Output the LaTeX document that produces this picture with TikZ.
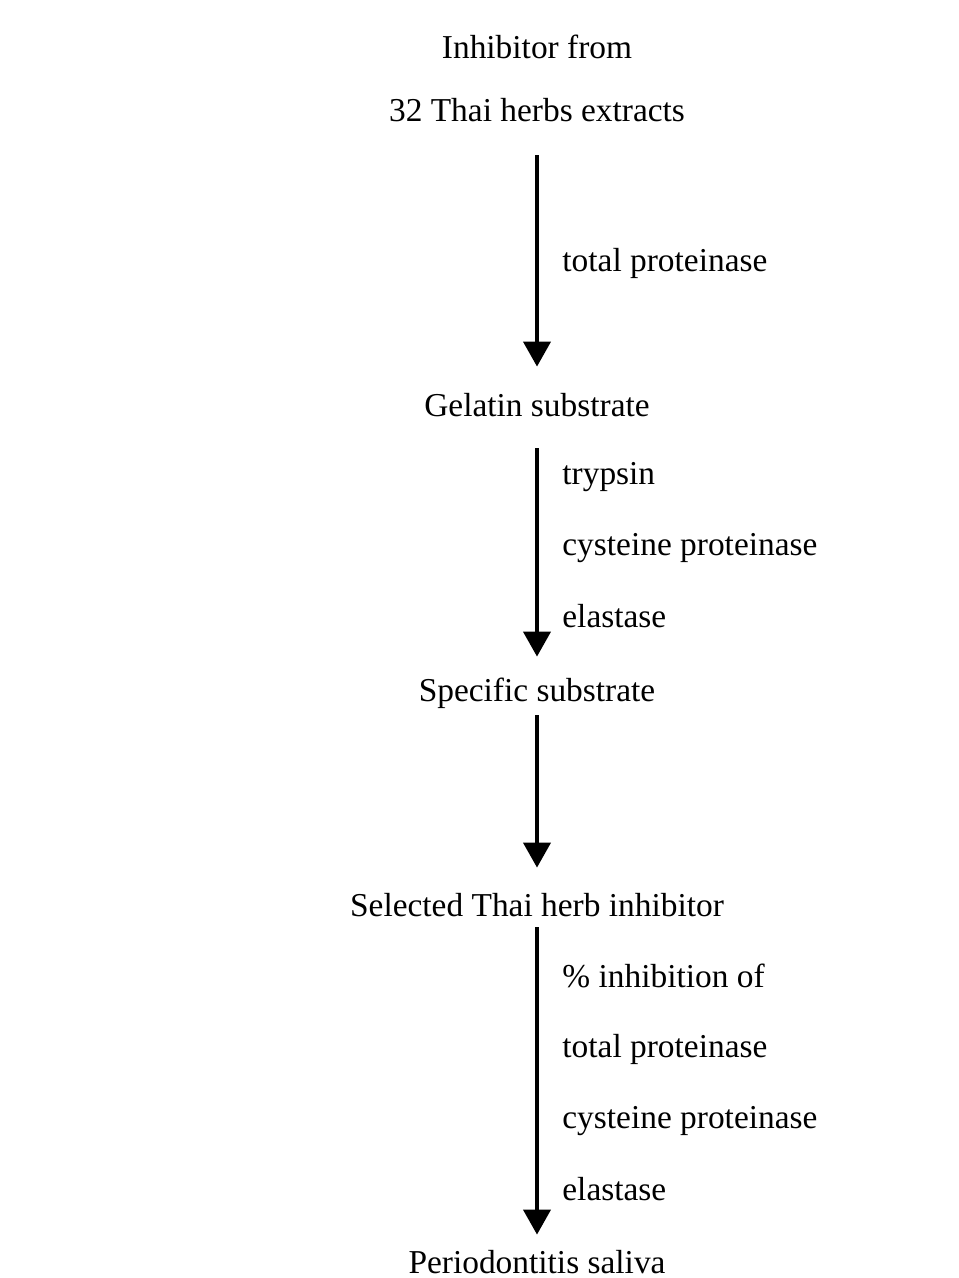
\documentclass[tikz,border=0pt]{standalone}
\usepackage{fontspec}
\setmainfont{Liberation Serif}
\usetikzlibrary{arrows.meta}
\tikzset{
    flow chart/.style = {x=0.5pt, y=-0.5pt, font=\fontsize{16.7}{20}\selectfont,
                         >={Triangle[length=12.5pt, width=13.5pt]}},
    stage/.style      = {inner sep=0pt, anchor=base,
                         text height=11.5pt, text depth=3.5pt},
    assay/.style      = {inner sep=0pt, anchor=base west},
    flow/.style 2 args = {->, line width=2pt, shorten <=#1, shorten >=#2}
}

\begin{document}
\begin{tikzpicture}[flow chart]
\useasboundingbox (0,0) rectangle (958,1278);

% Stages of the screening.
\node[stage] (inhibitor) at (537,59) {Inhibitor from};
\node[stage] (herbs) at (537,122) {32 Thai herbs extracts};
\node[stage] (gelatin) at (537,416) {Gelatin substrate};
\node[stage] (specific) at (537,701) {Specific substrate};
\node[stage] (selected) at (537,916) {Selected Thai herb inhibitor};
\node[stage] (saliva) at (537,1273) {Periodontitis saliva};

% Enzymes tested along each step.
\foreach \name/\y/\enzyme in {
    total-1/272/total proteinase,
    trypsin-2/484/trypsin, cysteine-2/555/cysteine proteinase,
    elastase-2/627/elastase,
    percent-4/987/\% inhibition of, total-4/1057/total proteinase,
    cysteine-4/1128/cysteine proteinase, elastase-4/1200/elastase} {
    \node[assay] (\name) at (562,\y) {\enzyme};
}

\draw[flow={13pt}{13pt}] (herbs.south) -- (gelatin.north);
\draw[flow={12.5pt}{10.5pt}] (gelatin.south) -- (specific.north);
\draw[flow={3.5pt}{12.5pt}] (specific.south) -- (selected.north);
\draw[flow={2pt}{7.5pt}] (selected.south) -- (saliva.north);

\end{tikzpicture}
\end{document}
